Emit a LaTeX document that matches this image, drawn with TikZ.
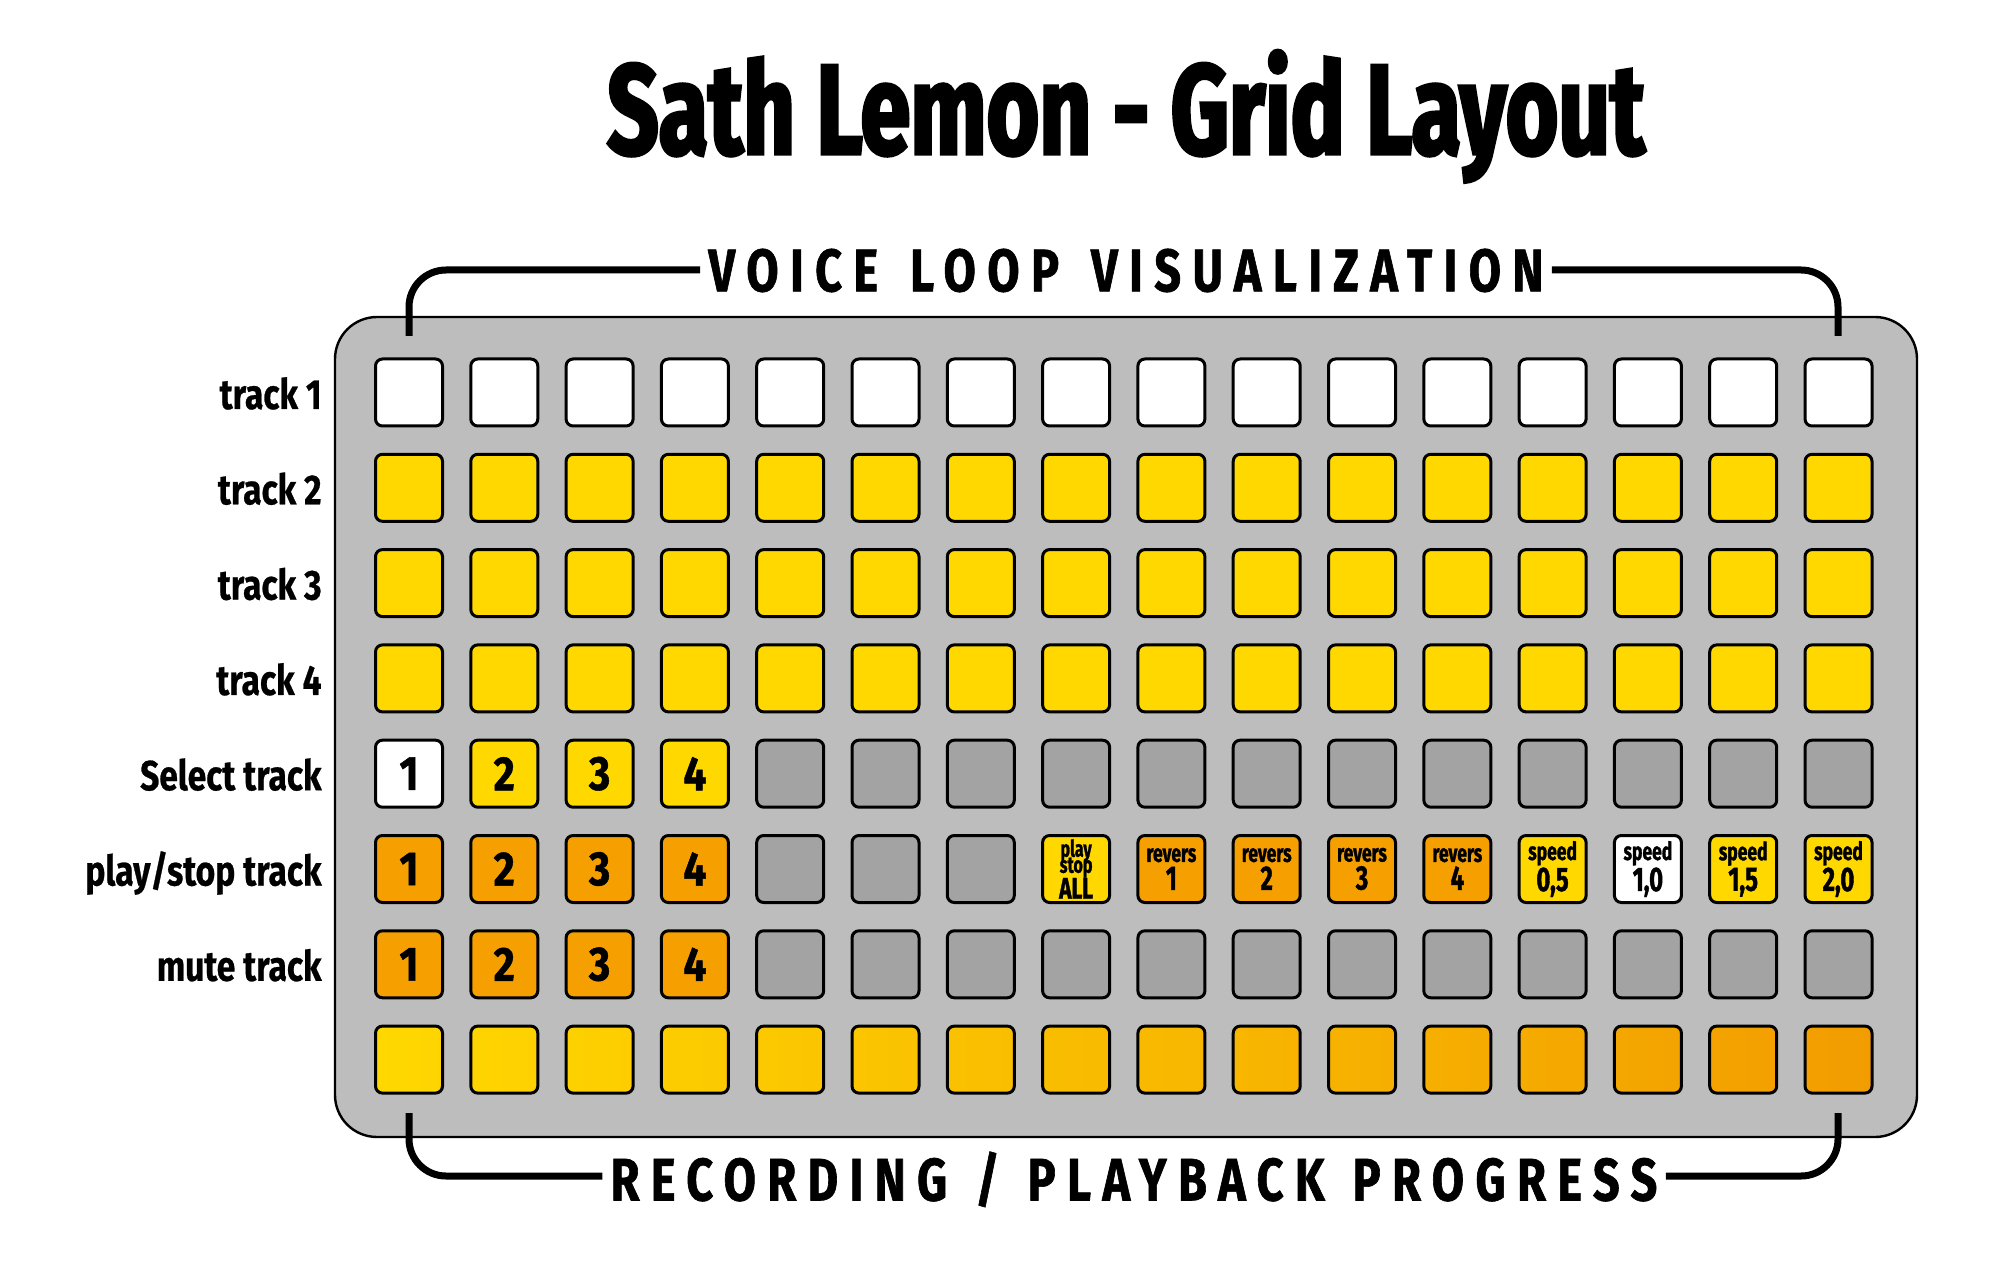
\documentclass[tikz,border=0pt]{standalone}
\usepackage{fontspec}
\newfontfamily\titlef{Fira Sans}[FakeStretch=0.705,FakeBold=2.5]
\newfontfamily\labf{Fira Sans}[FakeStretch=0.8,FakeBold=0.6]
\newfontfamily\headf{Fira Sans}[FakeStretch=0.78,LetterSpace=19,FakeBold=1]
\newfontfamily\cellf{Fira Sans}[FakeStretch=0.85,FakeBold=1]
\newfontfamily\smallf{Fira Sans}[FakeStretch=0.7,FakeBold=1.2]
\definecolor{panel}{HTML}{BDBDBD}
\definecolor{gry}{HTML}{A3A3A3}
\definecolor{yel}{HTML}{FFD800}
\definecolor{org}{HTML}{F5A000}
\definecolor{gend}{HTML}{F29C00}
\newcommand\tightls{\setlength{\lineskiplimit}{-20pt}\setlength{\lineskip}{0pt}}
\tikzset{
  cell/.style={draw=black,line width=1.5pt,rounded corners=3.5pt,minimum size=33.5pt,inner sep=0pt},
  whitec/.style={cell,fill=white},
  yelc/.style={cell,fill=yel},
  orgc/.style={cell,fill=org},
  gryc/.style={cell,fill=gry},
  num/.style={font=\cellf\bfseries\fontsize{24}{24}\selectfont},
  small/.style={align=center,font=\smallf\bfseries\fontsize{12.5}{14}\selectfont},
  rowlab/.style={anchor=base east,font=\labf\bfseries\fontsize{21}{21}\selectfont,inner sep=0pt},
  brk/.style={line width=3.5pt,rounded corners=18.5pt},
  head/.style={font=\headf\bfseries\fontsize{30}{30}\selectfont,text depth=0pt,inner xsep=4pt,inner ysep=0pt}
}
\newcommand\cx[1]{409+95.3*#1}
\newcommand\cy[1]{392.5+95.3*#1}
\newcommand\wsp{\hspace{16pt}}
\newcommand\wspb{\hspace{14pt}}
\newcommand\bignum[1]{{\fontsize{17}{14}\selectfont #1}}
\begin{document}
\begin{tikzpicture}[x=0.5pt,y=-0.5pt]
\useasboundingbox (0,0) rectangle (2000,1261);
% title
\node[anchor=base,inner sep=0pt,font=\titlef\bfseries\fontsize{64}{64}\selectfont] (title) at (1126,154) {Sath Lemon - Grid Layout};
% panel
\node[draw=black,line width=1.2pt,fill=panel,rounded corners=21pt,minimum width=791pt,minimum height=410pt,inner sep=0pt] (panel) at (1126,727) {};
% row labels
\foreach \r/\t in {0/{track 1},1/{track 2},2/{track 3},3/{track 4},4/{Select track},5/{play/stop track},6/{mute track}}
  \node[rowlab] (lab-\r) at (322,{\cy{\r}+16.5}) {\t};
% row 0
\foreach \c in {0,...,15} \node[whitec] (c-0-\c) at ({\cx{\c}},{\cy{0}}) {};
% rows 1-3
\foreach \r in {1,2,3} \foreach \c in {0,...,15} \node[yelc] (c-\r-\c) at ({\cx{\c}},{\cy{\r}}) {};
% row 4
\node[whitec,num] (c-4-0) at ({\cx{0}},{\cy{4}}) {1};
\foreach \c/\t in {1/2,2/3,3/4} \node[yelc,num] (c-4-\c) at ({\cx{\c}},{\cy{4}}) {\t};
\foreach \c in {4,...,15} \node[gryc] (c-4-\c) at ({\cx{\c}},{\cy{4}}) {};
% row 5
\foreach \c/\t in {0/1,1/2,2/3,3/4} \node[orgc,num] (c-5-\c) at ({\cx{\c}},{\cy{5}}) {\t};
\foreach \c in {4,5,6} \node[gryc] (c-5-\c) at ({\cx{\c}},{\cy{5}}) {};
\node[yelc,small,font=\smallf\bfseries\fontsize{11.5}{8}\selectfont\tightls] (c-5-7) at ({\cx{7}},{\cy{5}}) {play\\stop\\[5pt]{\fontsize{15}{14}\selectfont ALL}};
\foreach \c/\t in {8/1,9/2,10/3,11/4} \node[orgc,small] (c-5-\c) at ({\cx{\c}},{\cy{5}}) {revers\\\bignum{\t}};
\node[yelc,small] (c-5-12) at ({\cx{12}},{\cy{5}}) {speed\\\bignum{0,5}};
\node[whitec,small] (c-5-13) at ({\cx{13}},{\cy{5}}) {speed\\\bignum{1,0}};
\node[yelc,small] (c-5-14) at ({\cx{14}},{\cy{5}}) {speed\\\bignum{1,5}};
\node[yelc,small] (c-5-15) at ({\cx{15}},{\cy{5}}) {speed\\\bignum{2,0}};
% row 6
\foreach \c/\t in {0/1,1/2,2/3,3/4} \node[orgc,num] (c-6-\c) at ({\cx{\c}},{\cy{6}}) {\t};
\foreach \c in {4,...,15} \node[gryc] (c-6-\c) at ({\cx{\c}},{\cy{6}}) {};
% row 7 gradient
\foreach \c in {0,...,15} {
  \pgfmathsetmacro\pa{100-100*\c/16}
  \pgfmathsetmacro\pb{100-100*(\c+1)/16}
  \node[cell,left color=yel!\pa!gend,right color=yel!\pb!gend] (c-7-\c) at ({\cx{\c}},{\cy{7}}) {};
}
% headings and brackets
\node[head] (hv) at (1126,270) {VOICE\wsp LOOP\wsp VISUALIZATION};
\node[head] (hr) at (1134,1176) {RECORDING\wspb /\wspb PLAYBACK\wspb PROGRESS};
\coordinate (tl) at (409,336);
\coordinate (tr) at (1838,336);
\coordinate (bl) at (409,1113);
\coordinate (br) at (1838,1113);
\draw[brk] (hv.west) -| (tl);
\draw[brk] (hv.east) -| (tr);
\draw[brk] (hr.west) -| (bl);
\draw[brk] (hr.east) -| (br);
\end{tikzpicture}
\end{document}
